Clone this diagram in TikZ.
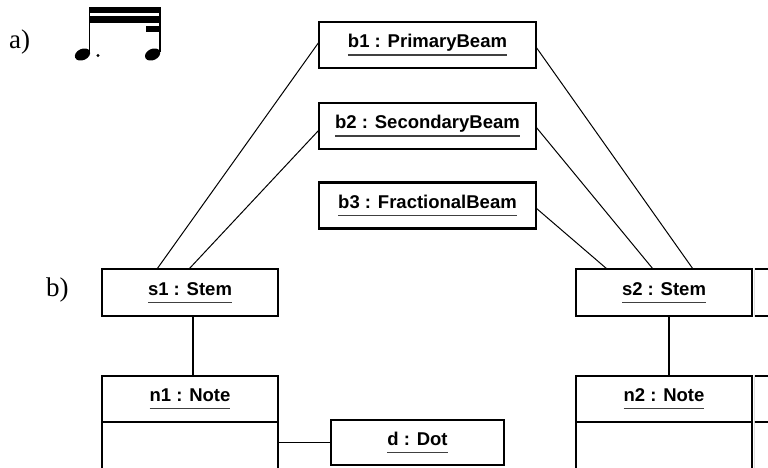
\documentclass[tikz,border=0pt]{standalone}
\usepackage{fontspec}
\setmainfont{Liberation Serif}
\newfontfamily\objfont{Liberation Sans}
\usetikzlibrary{calc}

% Object name, underlined as in UML object diagrams
\newcommand\objlabel[1]{\sbox0{#1}\rlap{\usebox0}\textcolor{black!75}{\rule[-7.8pt]{\wd0}{1.2pt}}}

\tikzset{
  objbox/.style={draw, line width=2.4pt, inner sep=0pt, outer sep=0pt, minimum height=46pt,
    font=\objfont\bfseries\fontsize{18.5}{22}\selectfont},
  beambox/.style={objbox, minimum width=217pt},
  stembox/.style={objbox, minimum width=176pt, minimum height=47pt},
  notebox/.style={objbox, minimum width=176pt},
  dotbox/.style={objbox, minimum width=173pt, minimum height=45pt},
  bodybox/.style={notebox, minimum height=80pt, anchor=north},
  link/.style={line width=1pt},
  thicklink/.style={line width=2pt},
  partlabel/.style={font=\fontsize{27}{30}\selectfont, inner sep=0pt, anchor=base west}
}

\begin{document}
\begin{tikzpicture}[x=1pt,y=-1pt]
\useasboundingbox (0,0) rectangle (768,467);
\clip (0,0) rectangle (768,467);

% part labels
\node[partlabel] (la) at (9,48) {a)};
\node[partlabel] (lb) at (46,296) {b)};

% dotted sixteenth figure: beams, stems, heads, dot
\fill (89,6.7) rectangle (160.7,13);
\fill (89,16.3) rectangle (160.7,22.5);
\fill (145.7,25.5) rectangle (160.7,31.5);
\draw[line width=1.4pt] (89.7,7) -- (89.7,52);
\draw[line width=1.4pt] (160,7) -- (160,52);
\fill[rotate around={25:(82.5,54.5)}] (82.5,54.5) ellipse [x radius=8pt, y radius=5.6pt];
\fill[rotate around={25:(152.6,54.5)}] (152.6,54.5) ellipse [x radius=8pt, y radius=5.6pt];
\fill (98,55.5) circle [radius=1.7pt];

% beam objects
\node[beambox] (b1) at (427.5,45) {\objlabel{b1 : PrimaryBeam}};
\node[beambox] (b2) at (427.5,126) {\objlabel{b2 : SecondaryBeam}};
\node[beambox] (b3) at (427.5,205.5) {\objlabel{b3 : FractionalBeam}};

% stems and notes
\node[stembox] (s1) at (190,292.5) {\objlabel{s1 : Stem}};
\node[stembox] (s2) at (664,292.5) {\objlabel{s2 : Stem}};
\node[notebox] (n1) at (190,399) {\objlabel{n1 : Note}};
\node[notebox] (n2) at (664,399) {\objlabel{n2 : Note}};
\node[bodybox] (n1body) at (n1.south) {};
\node[bodybox] (n2body) at (n2.south) {};
\node[dotbox] (d) at (417.5,442.5) {\objlabel{d : Dot}};

% next stem and note, running off the right edge
\begin{scope}
  \clip (754.8,0) rectangle (768,467);
  \node[stembox, anchor=west] (s3) at (753.5,292.5) {};
  \node[notebox, anchor=north west] (n3) at (753.5,376) {};
  \node[bodybox] (n3body) at (n3.south) {};
\end{scope}

% links
\draw[link] ([yshift=3pt]b1.west) -- ([xshift=-33pt]s1.north);
\draw[link] ([yshift=-4pt]b2.west) -- ([xshift=-1pt]s1.north);
\draw[link] ([yshift=-2pt]b1.east) -- ([xshift=29pt]s2.north);
\draw[link] ([yshift=-1pt]b2.east) -- ([xshift=-11pt]s2.north);
\draw[link] ([yshift=-2.5pt]b3.east) -- ([xshift=-57pt]s2.north);
\draw[thicklink] ([xshift=3pt]s1.south) -- ([xshift=3pt]n1.north);
\draw[thicklink] ([xshift=5pt]s2.south) -- ([xshift=5pt]n2.north);
\draw[link] (n1body.east |- d.west) -- (d.west);
\end{tikzpicture}
\end{document}
